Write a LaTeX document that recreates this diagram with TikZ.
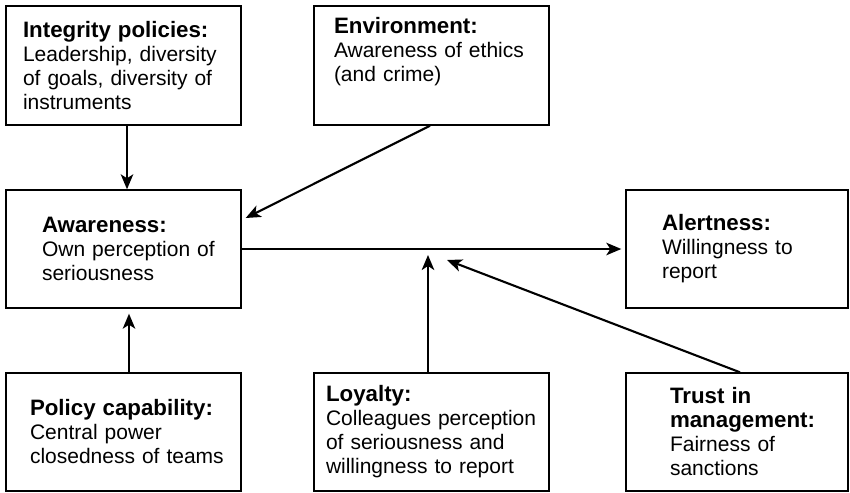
\documentclass[tikz,border=0pt]{standalone}
\usepackage{fontspec}
\setmainfont{Liberation Sans}
\usetikzlibrary{arrows.meta}
\newcommand\ttl[1]{\mbox{\fontsize{22.3}{24}\selectfont\bfseries #1}}
\begin{document}
\begin{tikzpicture}[x=1pt,y=-1pt,
  box/.style={draw=black, line width=1.4pt, minimum width=235pt, minimum height=119pt,
    align=left, inner sep=0pt, font=\fontsize{21}{24}\selectfont},
  arr/.style={line width=2.1pt, -{Stealth[length=15pt,width=12.5pt,inset=4pt]}}]
\useasboundingbox (0,0) rectangle (850,492);
\node[box, text width=201pt] (integ) at (123.5,65.5) {\ttl{Integrity policies:}\\\mbox{Leadership, diversity}\\\mbox{of goals, diversity of}\\instruments};
\node[box, text width=195pt] (env) at (431.5,65.5) {\ttl{Environment:}\\\mbox{Awareness of ethics}\\(and crime)\\\strut};
\node[box, text width=163pt, minimum height=118pt] (aware) at (123.5,249) {\ttl{Awareness:}\\\mbox{Own perception of}\\seriousness};
\node[box, text width=150pt, minimum width=222pt, minimum height=118pt] (alert) at (737,249) {\ttl{Alertness:}\\\mbox{Willingness to}\\report};
\node[box, text width=187pt, minimum height=118pt] (policy) at (123.5,432) {\ttl{Policy capability:}\\\mbox{Central power}\\\mbox{closedness of teams}};
\node[box, text width=211pt, minimum height=118pt] (loyal) at (431.5,432) {\ttl{Loyalty:}\\\mbox{Colleagues perception}\\\mbox{of seriousness and}\\\mbox{willingness to report}};
\node[box, text width=134pt, minimum width=222pt, minimum height=118pt] (trust) at (737,432) {\ttl{Trust in}\\\ttl{management:}\\\mbox{Fairness of}\\sanctions};
\coordinate (loytip) at (428,255);
\coordinate (trusttip) at (447,260);
\draw[arr] ([xshift=3.5pt]integ.south) -- ([xshift=3.5pt]aware.north);
\draw[arr] ([xshift=-1.5pt]env.south) -- ([xshift=4pt,yshift=31pt]aware.east);
\draw[arr] (aware.east) -- ([xshift=-4pt]alert.west);
\draw[arr] ([xshift=5.5pt]policy.north) -- ([xshift=5.5pt,yshift=-5pt]aware.south);
\draw[arr] ([xshift=-3.5pt]loyal.north) -- (loytip);
\draw[arr] ([xshift=3pt]trust.north) -- (trusttip);
\end{tikzpicture}
\end{document}
